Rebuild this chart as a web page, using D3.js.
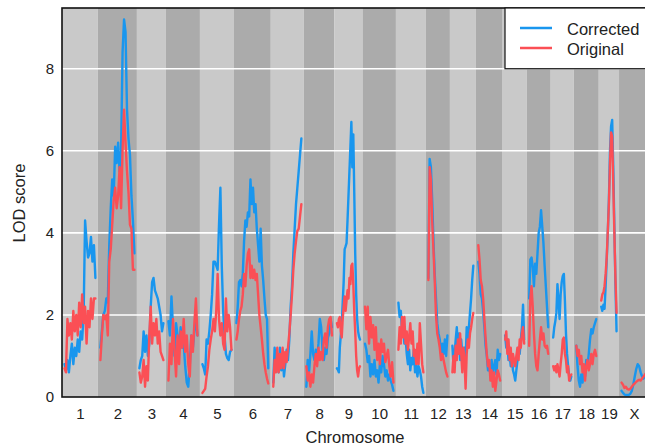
<!DOCTYPE html>
<html>
<head>
<meta charset="utf-8">
<script src="https://cdn.jsdelivr.net/npm/d3@7"></script>
<style>
  html, body { margin: 0; padding: 0; background: #fff; }
  svg { display: block; font-family: "Liberation Sans", Arial, sans-serif; }
</style>
</head>
<body>
<svg id="chart" width="645" height="448"></svg>
<script>
// ---- data ----
const chromosomes = ["1","2","3","4","5","6","7","8","9","10","11","12","13","14","15","16","17","18","19","X"];
const chrLengths = [99,109,77,93,93,102,90,82,74,91,80,61,67,70,61,61,58,64,49,80]; // cM
const chrGap = 16; // cM between chromosomes
const yTicks = [0,2,4,6,8];
const seriesNames = ["Corrected","Original"];

const corrected = [
  [0.8,0.65,0.9,0.6,1.0,1.3,0.8,1.2,1.0,1.4,1.1,1.6,1.4,2.0,4.3,3.8,3.4,3.5,3.9,3.3,3.7,2.9],
  [1.2,1.6,2.0,2.1,2.4,2.3,3.7,4.6,5.3,4.9,6.1,5.7,6.2,5.5,6.0,8.4,9.2,8.9,7.0,6.3,5.9,4.9,4.3,3.5],
  [0.7,0.9,1.0,1.6,1.1,1.5,1.0,1.3,2.2,2.8,2.9,2.6,2.5,2.4,2.2,2.0,1.6,1.8],
  [1.85,1.5,2.45,1.7,1.0,1.8,1.5,1.15,1.7,1.2,1.3,0.75,0.35,0.25,0.8,1.5,1.2,1.6,1.9,1.5],
  [0.8,0.7,0.55,1.4,1.3,1.6,2.0,2.5,3.3,3.3,3.2,3.1,4.2,5.1,3.2,2.1,1.5,1.05,0.95,0.9,1.1,1.15],
  [1.8,2.2,2.8,2.85,2.7,3.0,3.8,4.3,4.15,4.5,4.4,5.3,4.7,5.1,4.5,4.7,4.1,3.7,3.3,4.1,3.2,2.85,2.4,2.0,1.9,0.7],
  [0.35,1.2,0.8,1.05,0.6,1.2,0.65,1.05,0.5,0.8,1.15,0.9,1.4,2.2,2.7,3.5,4.1,4.7,5.1,5.5,5.9,6.3],
  [0.25,0.9,0.6,1.05,1.6,1.05,0.9,1.15,0.9,1.3,1.9,1.7,1.15,0.9,1.2,1.05,1.45,1.55,1.9,1.7],
  [0.7,0.66,0.6,1.2,1.5,1.8,2.3,2.8,3.6,3.67,3.75,4.3,4.9,5.5,6.1,6.7,5.6,6.4,5.0,3.5,2.5,1.9,1.6,1.47,1.4],
  [1.3,1.15,0.85,1.0,0.5,0.8,0.55,0.9,0.5,0.65,0.35,0.8,0.6,1.0,0.8,0.5,0.65,0.4,0.55,0.4,0.3,0.15],
  [2.3,1.95,2.1,1.65,1.8,1.3,1.45,1.05,0.8,1.15,0.65,0.95,0.8,1.15,0.6,0.8,0.5,0.75,0.65,0.5,0.25,0.1],
  [2.9,5.8,5.6,4.8,3.8,3.0,2.4,1.8,1.55,1.4,1.05,1.3,1.05,1.4,1.0,1.5],
  [1.25,0.75,1.05,1.4,1.7,1.2,1.55,0.9,1.4,1.05,0.75,1.2,0.9,1.7,1.4,1.7,2.05,2.4,2.85,3.2],
  [3.3,3.0,2.5,2.4,2.1,1.7,1.25,1.0,0.65,0.75,0.55,0.9,0.55,0.75,0.9,0.55,1.15,0.9,1.05],
  [1.5,1.2,1.4,0.9,1.05,0.75,1.0,0.65,0.55,0.4,0.65,0.9,1.2,1.05,1.4,1.7,2.25,1.4],
  [2.4,3.35,3.4,3.15,2.7,3.25,3.0,3.5,4.0,4.15,4.55,4.15,3.75,3.2,2.7,2.2,1.7],
  [1.45,1.7,1.85,2.05,2.75,2.35,1.9,2.5,2.8,2.95,3.0,2.35,1.55,1.05,0.75,0.5,0.4,0.5],
  [1.25,0.75,0.4,0.25,0.55,0.35,0.75,0.5,0.9,0.75,1.05,1.4,1.65,1.55,1.7,1.8,1.9],
  [2.2,2.1,2.25,2.15,2.7,3.35,4.0,4.8,6.0,6.6,6.75,5.6,4.15,2.75,1.6],
  [0.15,0.1,0.06,0.05,0.05,0.05,0.08,0.15,0.3,0.5,0.68,0.8,0.75,0.6,0.5,0.45,0.5,0.6]
];

const original = [
  [0.7,0.6,1.9,1.5,1.8,1.4,2.1,1.6,2.0,1.5,2.3,1.7,2.5,1.8,2.2,1.3,2.1,1.7,2.4,1.9,2.4,2.4],
  [0.9,1.5,2.0,1.9,2.0,1.5,3.3,3.6,4.2,4.8,5.1,4.6,4.9,5.6,4.6,6.0,7.0,6.2,5.5,5.0,4.2,4.1,3.1,3.1],
  [0.6,0.35,0.5,0.9,0.25,0.75,0.4,1.5,2.2,1.3,1.8,1.5,1.9,1.3,1.6,1.1,1.0,0.9],
  [0.4,1.3,0.8,1.9,1.15,0.5,1.5,0.8,1.6,1.2,1.9,1.1,1.5,0.8,0.5,1.5,1.1,1.8,2.4,1.5],
  [0.1,0.15,0.2,0.5,0.75,1.15,1.4,1.6,1.9,1.6,2.1,3.0,1.9,1.5,1.8,1.3,1.15,2.4,1.6,2.0,1.7,1.15],
  [1.4,1.6,1.9,2.1,2.2,2.5,3.0,2.7,3.2,3.5,3.6,2.9,3.2,2.9,3.1,2.85,3.0,2.5,2.0,1.7,1.4,1.06,0.8,0.6,0.45,0.33],
  [0.25,0.9,0.6,1.2,0.6,1.05,0.7,1.2,0.7,1.1,0.85,1.2,1.55,2.0,2.5,3.1,3.5,3.8,4.05,4.1,4.4,4.7],
  [0.75,0.4,0.6,0.25,0.55,0.35,0.75,1.05,0.75,1.2,0.9,1.1,0.9,1.4,1.55,1.2,1.7,1.9,1.95,1.5],
  [1.8,1.7,1.9,1.95,1.6,1.45,1.9,2.2,2.45,2.1,2.35,2.6,2.4,2.9,2.75,3.2,3.25,2.75,2.1,1.6,1.0,0.65,0.5,0.7,0.75],
  [2.2,1.65,2.2,1.3,1.95,1.45,1.75,1.15,1.7,0.9,1.3,0.8,1.4,1.1,1.3,0.85,1.0,1.15,0.75,0.5,0.85,0.35],
  [1.15,1.7,1.3,1.95,1.45,1.95,1.3,1.6,1.15,1.45,1.8,1.3,1.6,1.0,1.15,0.8,1.3,0.8,1.8,1.3,0.8,0.6],
  [2.85,5.6,5.3,4.3,3.6,2.85,2.0,1.55,1.4,1.2,0.9,1.05,0.9,0.75,0.6,0.5],
  [0.6,1.0,0.6,1.25,0.9,1.4,1.05,1.55,1.05,0.6,1.2,0.9,0.2,1.05,1.4,1.2,1.55,1.7,1.9,2.05],
  [3.7,3.35,2.85,2.7,2.4,1.9,1.45,1.05,0.75,0.9,0.4,0.65,0.25,0.6,0.15,0.4,0.65,0.55,0.4],
  [1.4,1.6,1.05,1.4,0.9,1.2,0.75,1.05,0.9,0.75,1.0,1.2,0.9,1.4,1.2,1.55,1.7,1.3],
  [1.25,2.4,2.7,2.2,1.55,1.05,0.75,0.65,1.05,1.4,1.7,1.4,1.55,1.25,1.2,1.25,1.05],
  [0.75,0.65,0.75,0.6,0.8,0.65,0.5,0.8,1.05,1.4,1.45,1.05,0.9,0.6,0.75,0.4,0.5,0.55],
  [1.25,1.0,1.15,0.8,1.0,0.6,0.8,0.4,0.75,0.9,0.65,0.8,1.05,0.8,1.05,1.15,1.0],
  [2.35,2.5,2.55,2.7,3.0,3.4,4.05,4.7,5.7,6.45,6.35,5.2,4.0,2.9,2.05],
  [0.35,0.3,0.22,0.25,0.19,0.18,0.2,0.25,0.3,0.33,0.37,0.4,0.42,0.4,0.45,0.5,0.55,0.6]
];

// ---- layout ----
const W = 645, H = 448;
const M = {left: 62, top: 8, right: 649, bottom: 397};
const colors = {Corrected: "#1996ee", Original: "#fb4f55"};
const bgLight = "#c9c9c9", bgDark = "#ababab";

const svg = d3.select("#chart");

// cumulative chromosome positions
const starts = [];
let acc = 0;
chrLengths.forEach(len => { starts.push(acc); acc += len + chrGap; });
const total = acc;

const x = d3.scaleLinear().domain([0, total]).range([M.left, M.right]);
const y = d3.scaleLinear().domain([0, 9.48]).range([M.bottom, M.top]);

// backgrounds
svg.append("g").selectAll("rect")
  .data(chromosomes)
  .join("rect")
  .attr("x", (d,i) => x(starts[i]))
  .attr("y", M.top)
  .attr("width", (d,i) => x(starts[i] + chrLengths[i] + chrGap) - x(starts[i]))
  .attr("height", M.bottom - M.top)
  .attr("fill", (d,i) => i % 2 === 0 ? bgLight : bgDark);

// gridlines
svg.append("g").selectAll("line")
  .data(yTicks.filter(t => t > 0))
  .join("line")
  .attr("x1", M.left).attr("x2", M.right)
  .attr("y1", d => y(d)).attr("y2", d => y(d))
  .attr("stroke", "#ffffff").attr("stroke-width", 1.6);

// lines
const line = d3.line()
  .x(d => x(d.pos))
  .y(d => y(d.lod));

function chrPoints(vals, ci) {
  const n = vals.length;
  const s = starts[ci] + chrGap / 2;
  return vals.map((v, i) => ({pos: s + (n > 1 ? i / (n - 1) : 0) * chrLengths[ci], lod: v}));
}

const series = [
  {name: "Corrected", data: corrected},
  {name: "Original", data: original}
];

series.forEach(s => {
  svg.append("g").selectAll("path")
    .data(s.data.map((vals, ci) => chrPoints(vals, ci)))
    .join("path")
    .attr("d", line)
    .attr("fill", "none")
    .attr("stroke", colors[s.name])
    .attr("stroke-width", 2.4)
    .attr("stroke-linejoin", "round")
    .attr("stroke-linecap", "round");
});

// frame
svg.append("rect")
  .attr("x", M.left).attr("y", M.top)
  .attr("width", M.right - M.left).attr("height", M.bottom - M.top)
  .attr("fill", "none").attr("stroke", "#111").attr("stroke-width", 1.6);

// y axis
const yAxis = d3.axisLeft(y).tickValues(yTicks).tickSize(0).tickPadding(8).tickFormat(d3.format("d"));
const gy = svg.append("g").attr("transform", `translate(${M.left},0)`).call(yAxis);
gy.select(".domain").remove();
gy.selectAll("text").attr("font-size", 15).attr("fill", "#222").attr("font-family", "Liberation Sans, Arial, sans-serif");

// x axis
const mids = chromosomes.map((c,i) => starts[i] + (chrLengths[i] + chrGap) / 2);
const xAxis = d3.axisBottom(x).tickValues(mids).tickSize(0).tickPadding(11)
  .tickFormat((d,i) => chromosomes[i]);
const gx = svg.append("g").attr("transform", `translate(0,${M.bottom})`).call(xAxis);
gx.select(".domain").remove();
gx.selectAll("text").attr("font-size", 15).attr("fill", "#222").attr("font-family", "Liberation Sans, Arial, sans-serif");

// axis titles
svg.append("text")
  .attr("x", 355).attr("y", 443)
  .attr("text-anchor", "middle")
  .attr("font-size", 16.5).attr("fill", "#222")
  .text("Chromosome");

svg.append("text")
  .attr("transform", `translate(25,203) rotate(-90)`)
  .attr("text-anchor", "middle")
  .attr("font-size", 16.5).attr("fill", "#222")
  .text("LOD score");

// legend
const lg = svg.append("g");
lg.append("rect")
  .attr("x", 505).attr("y", M.top)
  .attr("width", 160).attr("height", y(8) - M.top)
  .attr("fill", "#ffffff").attr("stroke", "#111").attr("stroke-width", 1.2);
seriesNames.forEach((n, i) => {
  const yy = 28 + i * 20;
  lg.append("line")
    .attr("x1", 520).attr("x2", 552).attr("y1", yy).attr("y2", yy)
    .attr("stroke", colors[n]).attr("stroke-width", 2.5);
  lg.append("text")
    .attr("x", 567).attr("y", yy + 6.5)
    .attr("font-size", 16.5).attr("fill", "#222")
    .text(n);
});
</script>
</body>
</html>
